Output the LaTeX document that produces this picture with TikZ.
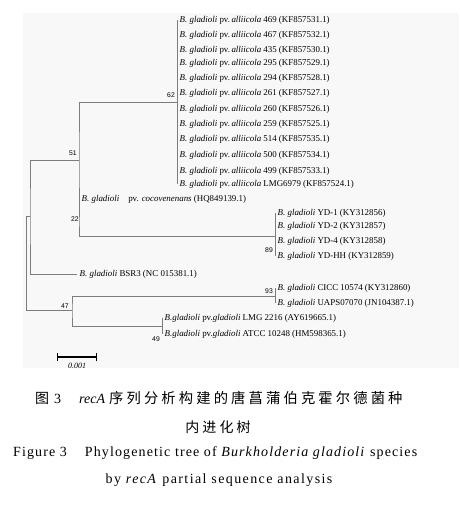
\documentclass[tikz,border=0pt]{standalone}
\usepackage{fontspec}
\setmainfont{Liberation Serif}
\newfontfamily\cjk[LetterSpace=22]{Noto Sans CJK SC}
\newfontfamily\numfont{Liberation Sans}
\usetikzlibrary{positioning}
\definecolor{treeGray}{RGB}{125,125,125}
\definecolor{bgGray}{RGB}{248,248,248}

\tikzset{
  branch/.style={draw=treeGray, line width=0.7pt},
  leaf/.style={anchor=west, inner ysep=0pt, inner xsep=2.5pt, font=\fontsize{8.9}{9}\selectfont},
  boot/.style={inner sep=0pt, font=\numfont\fontsize{6.8}{7}\selectfont},
  scalebar/.style={draw=black, line width=1.2pt},
  caption/.style={inner sep=0pt}
}
\newcommand{\gl}{\textit{B. gladioli}}

\begin{document}
\begin{tikzpicture}[x=1pt,y=-1pt]
  \useasboundingbox (0,0) rectangle (459,506);
  \fill[bgGray] (23,13) rectangle (459,368);

  % internal nodes
  \coordinate (root) at (26,216);
  \coordinate (n1) at (30,216);
  \coordinate (n51) at (79,160);
  \coordinate (n62) at (177,102);
  \coordinate (n22) at (79,217);
  \coordinate (n89) at (275,236);
  \coordinate (n47) at (72,310);
  \coordinate (n93) at (275,296);
  \coordinate (n49) at (162,326);

  % alliicola clade
  \foreach \str/\acc/\y [count=\i] in {469/KF857531.1/20, 467/KF857532.1/35, 435/KF857530.1/50,
      295/KF857529.1/63, 294/KF857528.1/78, 261/KF857527.1/93, 260/KF857526.1/109,
      259/KF857525.1/124, 514/KF857535.1/139, 500/KF857534.1/155, 499/KF857533.1/171,
      LMG6979/KF857524.1/184}
    \node[leaf] (a\i) at (177,\y) {\gl{} pv.\,\textit{alliicola} \str{} (\acc)};

  % other leaves
  \node[leaf] (coco) at (79,199) {\gl\hspace{9pt}pv. \textit{cocovenenans} (HQ849139.1)};
  \node[leaf] (yd1) at (275,213) {\gl{} YD-1 (KY312856)};
  \node[leaf] (yd2) at (275,226) {\gl{} YD-2 (KY312857)};
  \node[leaf] (yd4) at (275,241) {\gl{} YD-4 (KY312858)};
  \node[leaf] (ydhh) at (275,256) {\gl{} YD-HH (KY312859)};
  \node[leaf] (bsr3) at (77,274) {\gl{} BSR3 (NC 015381.1)};
  \node[leaf] (cicc) at (275,288) {\gl{} CICC 10574 (KY312860)};
  \node[leaf] (uaps) at (275,303) {\gl{} UAPS07070 (JN104387.1)};
  \node[leaf] (lmg) at (162,318) {\textit{B.gladioli} pv.\textit{gladioli} LMG 2216 (AY619665.1)};
  \node[leaf] (atcc) at (162,334) {\textit{B.gladioli} pv.\textit{gladioli} ATCC 10248 (HM598365.1)};

  % branches
  \draw[branch] (n1) -- (root) |- (n47);
  \draw[branch] (n51) -| (n1) |- (bsr3.west);
  \draw[branch] (n62) -| (n51) -- (n22);
  \draw[branch] (a1.west) -- (a12.west);
  \draw[branch] (coco.west) -- (n22) |- (n89);
  \draw[branch] (yd1.west) -- (ydhh.west);
  \draw[branch] (n93) -| (n47) |- (n49);
  \draw[branch] (cicc.west) -- (uaps.west);
  \draw[branch] (lmg.west) -- (atcc.west);

  % bootstrap values
  \node[boot] (b62) at (171,95) {62};
  \node[boot] (b51) at (73,153) {51};
  \node[boot] (b22) at (75,219) {22};
  \node[boot] (b89) at (269,250) {89};
  \node[boot] (b93) at (269,291) {93};
  \node[boot] (b47) at (65,306) {47};
  \node[boot] (b49) at (156,339) {49};

  % scale bar
  \coordinate (s0) at (57,357);
  \coordinate (s1) at (97,357);
  \draw[scalebar, |-|] (s0) -- (s1);
  \node[font=\itshape\fontsize{8}{9}\selectfont, inner sep=0pt] (sl) at (77,366) {0.001};

  % caption
  \node[caption, anchor=west] (cap1) at (35,398)
    {{\cjk\fontsize{14}{14}\selectfont 图}\hspace{5pt}{\fontsize{14}{14}\selectfont 3}\hspace{18pt}{\fontsize{14}{14}\selectfont\itshape recA}\hspace{4pt}{\cjk\fontsize{14.3}{14}\selectfont 序列分析构建的唐菖蒲伯克霍尔德菌种}};
  \node[caption] (cap2) at (218,427) {\cjk\fontsize{14}{14}\selectfont 内进化树};
  \node[caption, anchor=west] (cap3) at (13,453)
    {\addfontfeature{LetterSpace=8}\fontsize{14}{14}\selectfont Figure 3\hspace{18pt}Phylogenetic tree of \textit{Burkholderia gladioli} species};
  \node[caption] (cap4) at (219,480)
    {\addfontfeature{LetterSpace=10}\fontsize{14}{14}\selectfont by \textit{recA} partial sequence analysis};
\end{tikzpicture}
\end{document}
